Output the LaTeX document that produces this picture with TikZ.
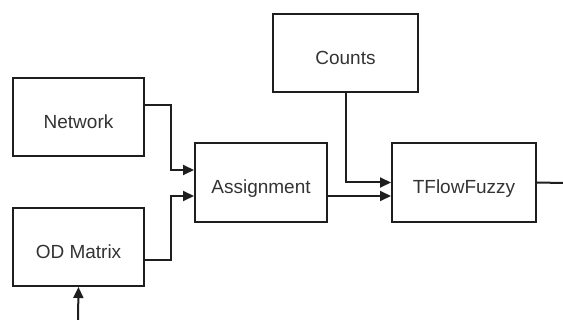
\documentclass[tikz,border=0pt]{standalone}
\usepackage{fontspec}
\setmainfont{Liberation Sans}
\usetikzlibrary{arrows.meta}
\definecolor{ink}{HTML}{1E1E1E}
\definecolor{txt}{HTML}{333333}
\begin{document}
\begin{tikzpicture}[x=1pt,y=-1pt,
  box/.style={draw=ink,line width=2pt,rectangle,minimum height=78pt,inner sep=0pt,
     text height=22.6pt,text depth=0pt,
     font=\fontsize{19pt}{22pt}\selectfont,text=txt},
  conn/.style={draw=ink,line width=2pt,-{Triangle[length=11pt,width=10pt]}},
  plain/.style={draw=ink,line width=2pt}]
\useasboundingbox (0,0) rectangle (563,320);
\node[box,minimum width=131pt] (net) at (78.5,117) {Network};
\node[box,minimum width=131pt] (od) at (78.5,247) {OD Matrix};
\node[box,minimum width=132pt,minimum height=79pt] (asg) at (261,182.5) {Assignment};
\node[box,minimum width=145pt] (cnt) at (345.5,53) {Counts};
\node[box,minimum width=144pt,minimum height=79pt] (tff) at (464,182.5) {TFlowFuzzy};
\coordinate (out) at (563,183);
\coordinate (in) at (78,320);
\draw[conn] ([yshift=12pt]net.east) -- ++(26,0) |- ([yshift=12.5pt]asg.west);
\draw[conn] ([yshift=-13pt]od.east) -- ++(26,0) |- ([yshift=-13.5pt]asg.west);
\draw[conn] (cnt.south) |- ([yshift=0pt]tff.west);
\draw[conn] ([yshift=-13.5pt]asg.east) -- ([yshift=-13.5pt]tff.west);
\draw[plain] (tff.east) -- (out);
\draw[conn] (in) -- (od.south);
\end{tikzpicture}
\end{document}
